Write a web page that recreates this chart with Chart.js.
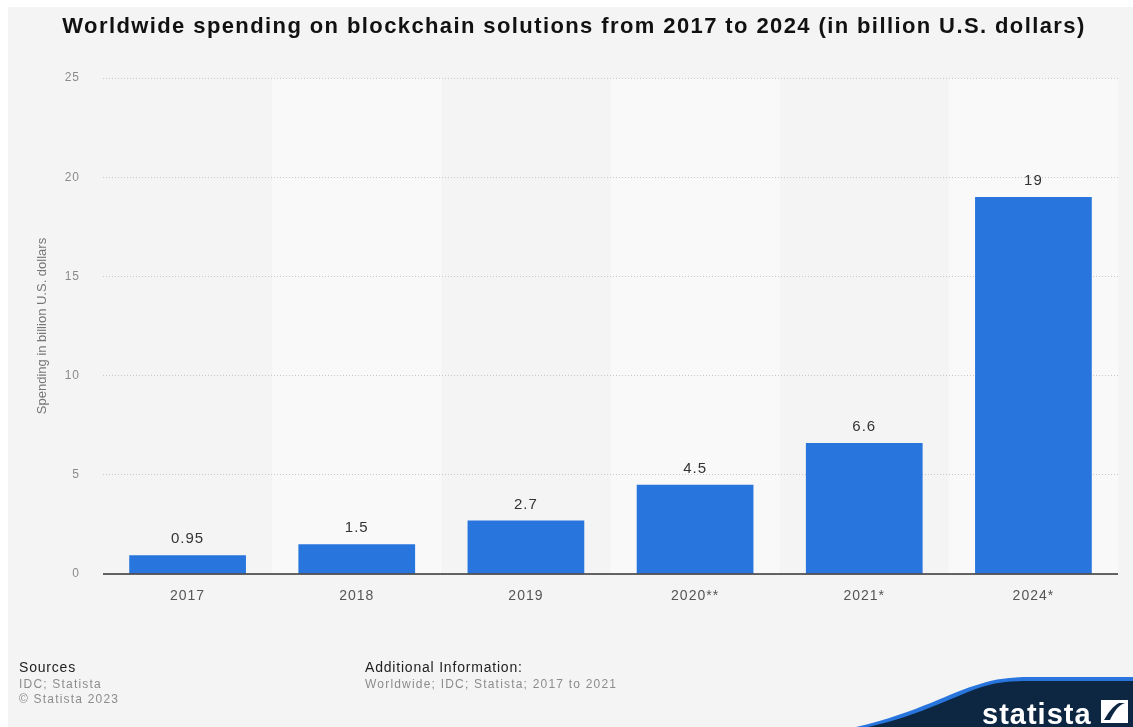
<!DOCTYPE html>
<html>
<head>
<meta charset="utf-8">
<script src="https://cdn.jsdelivr.net/npm/chart.js@4"></script>
<style>
  html, body { margin: 0; padding: 0; background: #ffffff; }
  canvas { display: block; }
</style>
</head>
<body>
<canvas id="myChart" width="1133" height="727"></canvas>
<script>
var years = ['2017', '2018', '2019', '2020**', '2021*', '2024*'];
var spending = [0.95, 1.5, 2.7, 4.5, 6.6, 19];
var yTicks = [0, 5, 10, 15, 20, 25];

var titleText = 'Worldwide spending on blockchain solutions from 2017 to 2024 (in billion U.S. dollars)';
var axisTitle = 'Spending in billion U.S. dollars';

var barBlue = '#2876dd';
var navy = '#0d2743';
var fontFamily = '"Liberation Sans", Arial, sans-serif';

// page background, striped columns, title, footer and logo
var decor = {
    id: 'decor',
    beforeDraw: function(chart) {
        var c = chart.ctx;
        var area = chart.chartArea;
        c.save();
        c.fillStyle = '#ffffff';
        c.fillRect(0, 0, chart.width, chart.height);
        c.fillStyle = '#f4f4f4';
        c.fillRect(8, 7, chart.width - 8, chart.height - 7);

        // lighter band behind every second year
        var x = chart.scales.x;
        var step = (area.right - area.left) / years.length;
        c.fillStyle = '#f9f9f9';
        for (var i = 1; i < years.length; i += 2) {
            var cx = x.getPixelForValue(i);
            c.fillRect(cx - step / 2, area.top, step, area.bottom - area.top);
        }

        c.fillStyle = '#111111';
        c.font = 'bold 22px ' + fontFamily;
        c.letterSpacing = '1.4px';
        c.textAlign = 'center';
        c.textBaseline = 'alphabetic';
        c.fillText(titleText, 574, 33);

        // rotated y axis title
        c.translate(42, (area.top + area.bottom) / 2);
        c.rotate(-Math.PI / 2);
        c.letterSpacing = '0px';
        c.fillStyle = '#777777';
        c.font = '13px ' + fontFamily;
        c.textBaseline = 'middle';
        c.fillText(axisTitle, 0, 0);
        c.restore();

        // axis labels are a little spaced out
        c.letterSpacing = '1px';
    },
    afterDraw: function(chart) {
        var c = chart.ctx;
        var area = chart.chartArea;
        var y = chart.scales.y;
        c.save();

        // zero baseline
        c.strokeStyle = '#333333';
        c.lineWidth = 1.5;
        c.beginPath();
        c.moveTo(area.left, y.getPixelForValue(0));
        c.lineTo(area.right, y.getPixelForValue(0));
        c.stroke();

        // footer
        c.textAlign = 'left';
        c.textBaseline = 'alphabetic';
        c.fillStyle = '#222222';
        c.font = '14px ' + fontFamily;
        c.letterSpacing = '0.8px';
        c.fillText('Sources', 19, 672);
        c.fillText('Additional Information:', 365, 672);
        c.fillStyle = '#8c8c8c';
        c.font = '12px ' + fontFamily;
        c.letterSpacing = '1.2px';
        c.fillText('IDC; Statista', 19, 688);
        c.fillText('\u00A9 Statista 2023', 19, 703);
        c.fillText('Worldwide; IDC; Statista; 2017 to 2021', 365, 688);

        // logo wave
        c.fillStyle = barBlue;
        c.beginPath();
        c.moveTo(856, 727);
        c.bezierCurveTo(920, 712, 950, 692, 980, 684);
        c.bezierCurveTo(995, 679, 1010, 677, 1030, 677);
        c.lineTo(1133, 677);
        c.lineTo(1133, 727);
        c.closePath();
        c.fill();
        c.fillStyle = navy;
        c.beginPath();
        c.moveTo(868, 727);
        c.bezierCurveTo(925, 714, 955, 695, 985, 686);
        c.bezierCurveTo(998, 682, 1012, 681, 1030, 681);
        c.lineTo(1133, 681);
        c.lineTo(1133, 727);
        c.closePath();
        c.fill();

        c.fillStyle = '#ffffff';
        c.font = 'bold 29px ' + fontFamily;
        c.letterSpacing = '1px';
        c.fillText('statista', 982, 724);

        // logo mark
        c.fillRect(1101, 700, 27, 23);
        c.fillStyle = navy;
        c.beginPath();
        c.moveTo(1104, 720);
        c.lineTo(1110, 720);
        c.bezierCurveTo(1114, 712, 1118, 705, 1125, 703);
        c.lineTo(1119, 703);
        c.bezierCurveTo(1113, 706, 1108, 713, 1104, 720);
        c.closePath();
        c.fill();
        c.restore();
    }
};

// value labels above bars
var valueLabels = {
    id: 'valueLabels',
    afterDatasetsDraw: function(chart) {
        var c = chart.ctx;
        var meta = chart.getDatasetMeta(0);
        c.save();
        c.fillStyle = '#333333';
        c.font = '15px ' + fontFamily;
        c.letterSpacing = '1px';
        c.textAlign = 'center';
        c.textBaseline = 'middle';
        meta.data.forEach(function(bar, i) {
            c.fillText(String(spending[i]), bar.x, bar.y - 16);
        });
        c.restore();
    }
};

var ctx = document.getElementById('myChart').getContext('2d');
var myChart = new Chart(ctx, {
    type: 'bar',
    data: {
        labels: years,
        datasets: [{
            label: 'Spending',
            data: spending,
            backgroundColor: barBlue,
            borderWidth: 0,
            barPercentage: 0.69,
            categoryPercentage: 1
        }]
    },
    options: {
        responsive: false,
        animation: false,
        devicePixelRatio: 1,
        layout: { padding: { top: 78, right: 15, left: 0, bottom: 0 } },
        plugins: {
            legend: { display: false },
            tooltip: { enabled: false }
        },
        scales: {
            x: {
                grid: { display: false, drawTicks: false },
                border: { display: false },
                ticks: {
                    color: '#555555',
                    font: { family: fontFamily, size: 14 },
                    padding: 14
                },
                afterFit: function(scale) { scale.height = 153; }
            },
            y: {
                min: 0,
                max: 25,
                afterBuildTicks: function(scale) {
                    scale.ticks = yTicks.map(function(v) { return { value: v }; });
                },
                grid: {
                    color: '#c8c8c8',
                    lineWidth: 1,
                    drawTicks: false
                },
                border: { display: false, dash: [1, 2] },
                ticks: {
                    color: '#8a8a8a',
                    font: { family: fontFamily, size: 12 },
                    padding: 23
                },
                afterFit: function(scale) { scale.width = 103; }
            }
        }
    },
    plugins: [decor, valueLabels]
});
</script>
</body>
</html>
